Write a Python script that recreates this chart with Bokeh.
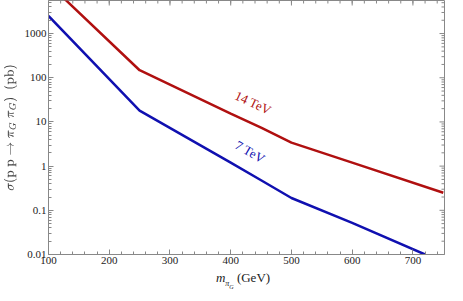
from bokeh.plotting import figure
from bokeh.models import Range1d, FixedTicker, Label, Div
from bokeh.layouts import column
from bokeh.embed import file_html
from bokeh.resources import INLINE

# data
mass_14 = [100, 250, 400, 450, 500, 600, 750]
xsec_14 = [13500, 148, 15.5, 7.4, 3.4, 1.2, 0.25]
mass_7 = [100, 250, 400, 450, 500, 600, 720]
xsec_7 = [2500, 18, 1.2, 0.48, 0.19, 0.052, 0.01]
x_ticks = [100, 200, 300, 400, 500, 600, 700]
x_minor = list(range(100, 760, 20))
y_ticks = [0.01, 0.1, 1, 10, 100, 1000]
y_minor = [m * 10.0**e for e in range(-2, 4) for m in range(2, 10)]
y_tick_labels = {0.01: "0.01", 0.1: "0.1", 1: "1", 10: "10", 100: "100", 1000: "1000"}

x_lo, x_hi = 100, 752
y_lo, y_hi = 0.01, 5600

red = "#b01010"
blue = "#1010b0"
gray = "#888888"
ink = "#222222"
serif = "Liberation Serif"

p = figure(width=447, height=266, output_backend="svg", toolbar_location=None,
           y_axis_type="log", x_range=Range1d(x_lo, x_hi), y_range=Range1d(y_lo, y_hi),
           min_border_left=36, min_border_right=3, min_border_top=0, min_border_bottom=0)
p.grid.visible = False
p.outline_line_color = gray
p.background_fill_color = "white"

p.line(mass_14, xsec_14, line_color=red, line_width=2.5)
p.line(mass_7, xsec_7, line_color=blue, line_width=2.5)

for ax in (p.xaxis[0], p.yaxis[0]):
    ax.axis_line_color = gray
    ax.major_tick_line_color = gray
    ax.minor_tick_line_color = gray
    ax.major_tick_in = 5
    ax.major_tick_out = 0
    ax.minor_tick_in = 3
    ax.minor_tick_out = 0
    ax.major_label_text_font = serif
    ax.major_label_text_font_size = "11px"
    ax.major_label_text_color = ink
    ax.major_label_standoff = 2

xa = p.xaxis[0]
xa.ticker = FixedTicker(ticks=x_ticks, minor_ticks=x_minor)

ya = p.yaxis[0]
ya.ticker = FixedTicker(ticks=y_ticks, minor_ticks=y_minor)
ya.major_label_overrides = y_tick_labels
ya.axis_label = r"$$\sigma(\mathrm{p\ p} \to \pi_G\ \pi_G)\ \ \text{(pb)}$$"
ya.axis_label_text_font = serif
ya.axis_label_text_font_style = "normal"
ya.axis_label_text_font_size = "13px"
ya.axis_label_standoff = 3

# mirrored frame ticks on top and right edges
p.ray(x=x_ticks, y=[y_hi] * len(x_ticks), length=5, angle=-90, angle_units="deg",
      length_units="screen", line_color=gray, line_width=1)
p.ray(x=x_minor, y=[y_hi] * len(x_minor), length=3, angle=-90, angle_units="deg",
      length_units="screen", line_color=gray, line_width=1)
p.ray(x=[x_hi] * len(y_ticks), y=y_ticks, length=5, angle=180, angle_units="deg",
      length_units="screen", line_color=gray, line_width=1)
p.ray(x=[x_hi] * len(y_minor), y=y_minor, length=3, angle=180, angle_units="deg",
      length_units="screen", line_color=gray, line_width=1)

p.add_layout(Label(x=437, y=27, text="14 TeV", angle=-25, angle_units="deg",
                   text_color=red, text_font=serif, text_font_size="13px",
                   text_align="center", text_baseline="middle"))
p.add_layout(Label(x=432, y=2.1, text="7 TeV", angle=-30, angle_units="deg",
                   text_color=blue, text_font=serif, text_font_size="13px",
                   text_align="center", text_baseline="middle"))

x_title = Div(
    text=('<div style="font-family:\'Liberation Serif\';font-size:13px;color:#222;'
          'text-align:center;width:408px;line-height:13px;padding-top:5px;">'
          '<i>m</i><sub style="font-size:8px"><i>&pi;<sub style="font-size:6px">G</sub></i></sub>'
          '&nbsp;(GeV)</div>'),
    width=408, height=19, margin=(0, 0, 0, 39))

layout = column(p, x_title, spacing=0)

open("out.html", "w").write(file_html(layout, INLINE))
